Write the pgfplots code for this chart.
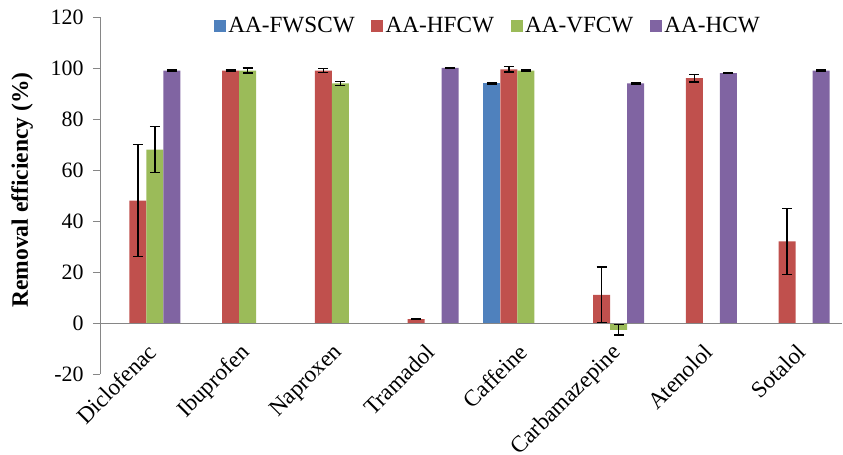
\documentclass[border=0pt]{standalone}
\usepackage{pgfplots}
\pgfplotsset{compat=1.18}
\usepackage{fontspec}
\setmainfont{Liberation Serif}
\definecolor{cblue}{HTML}{4F81BD}
\definecolor{cred}{HTML}{C0504D}
\definecolor{cgreen}{HTML}{9BBB59}
\definecolor{cpurple}{HTML}{8064A2}
\definecolor{axgray}{HTML}{868686}
\pgfplotsset{myerr/.style={error bars/.cd, y dir=both, y explicit,
  error bar style={black, line width=1.4bp},
  error mark options={black, line width=1.4bp, mark size=5bp, rotate=90}}}
\begin{document}
\begin{tikzpicture}
\useasboundingbox (-100bp,-81bp) rectangle (743bp,374bp);
\begin{axis}[
  scale only axis, width=742bp, height=357bp,
  ybar=0pt, bar width=17bp,
  xmin=-0.5, xmax=7.5, ymin=-20, ymax=120,
  ytick={-20,0,20,40,60,80,100,120},
  xtick={0,...,7},
  xticklabels={Diclofenac,Ibuprofen,Naproxen,Tramadol,Caffeine,Carbamazepine,Atenolol,Sotalol},
  axis lines*=left,
  x axis line style={draw=none},
  y axis line style={axgray, line width=0.8bp},
  xtick style={draw=none},
  ytick style={axgray, line width=0.8bp},
  tick align=outside, major tick length=7bp,
  /pgf/number format/assume math mode=true,
  yticklabel style={font=\fontsize{22}{25}\selectfont, xshift=-6bp},
  xticklabel style={font=\fontsize{23.2}{27}\selectfont, yshift=39bp, xshift=0bp, rotate=45, anchor=north east, inner sep=0pt},
  ylabel={\textbf{Removal efficiency (\%)}},
  every axis y label/.style={at={(axis description cs:-0.105,0.515)}, rotate=90, anchor=center, font=\fontsize{23.6}{27}\selectfont},
  legend columns=4,
  legend style={at={(0.523,0.975)}, anchor=center, draw=none, fill=none, font=\fontsize{23.3}{27}\selectfont,
    nodes={inner sep=2.5bp},
    /tikz/every even column/.append style={column sep=14bp}},
  legend image code/.code={\fill[#1] (0bp,-6bp) rectangle (12bp,6bp);},
]
\addplot[fill=cblue, draw=none, myerr] coordinates {(4,94) +- (0,0.2)};
\addplot[fill=cred, draw=none, myerr] coordinates {
 (0,48) +- (0,22) (1,99) +- (0,0.2) (2,99) +- (0,0.8) (3,1.5) +- (0,0.2)
 (4,99.5) +- (0,1) (5,11) +- (0,11) (6,96) +- (0,1.5) (7,32) +- (0,13)};
\addplot[fill=cgreen, draw=none, myerr] coordinates {
 (0,68) +- (0,9) (1,99) +- (0,1) (2,94) +- (0,0.8) (4,99) +- (0,0.2) (5,-2.7) +- (0,2)};
\addplot[fill=cpurple, draw=none, myerr] coordinates {
 (0,99) +- (0,0.2) (3,100) +- (0,0.2) (5,94) +- (0,0.2) (6,98) +- (0,0.2) (7,99) +- (0,0.2)};
\legend{AA-FWSCW,AA-HFCW,AA-VFCW,AA-HCW}
\draw[axgray, line width=0.8bp] (axis cs:-0.5,0) -- (axis cs:7.5,0);
\end{axis}
\end{tikzpicture}
\end{document}
